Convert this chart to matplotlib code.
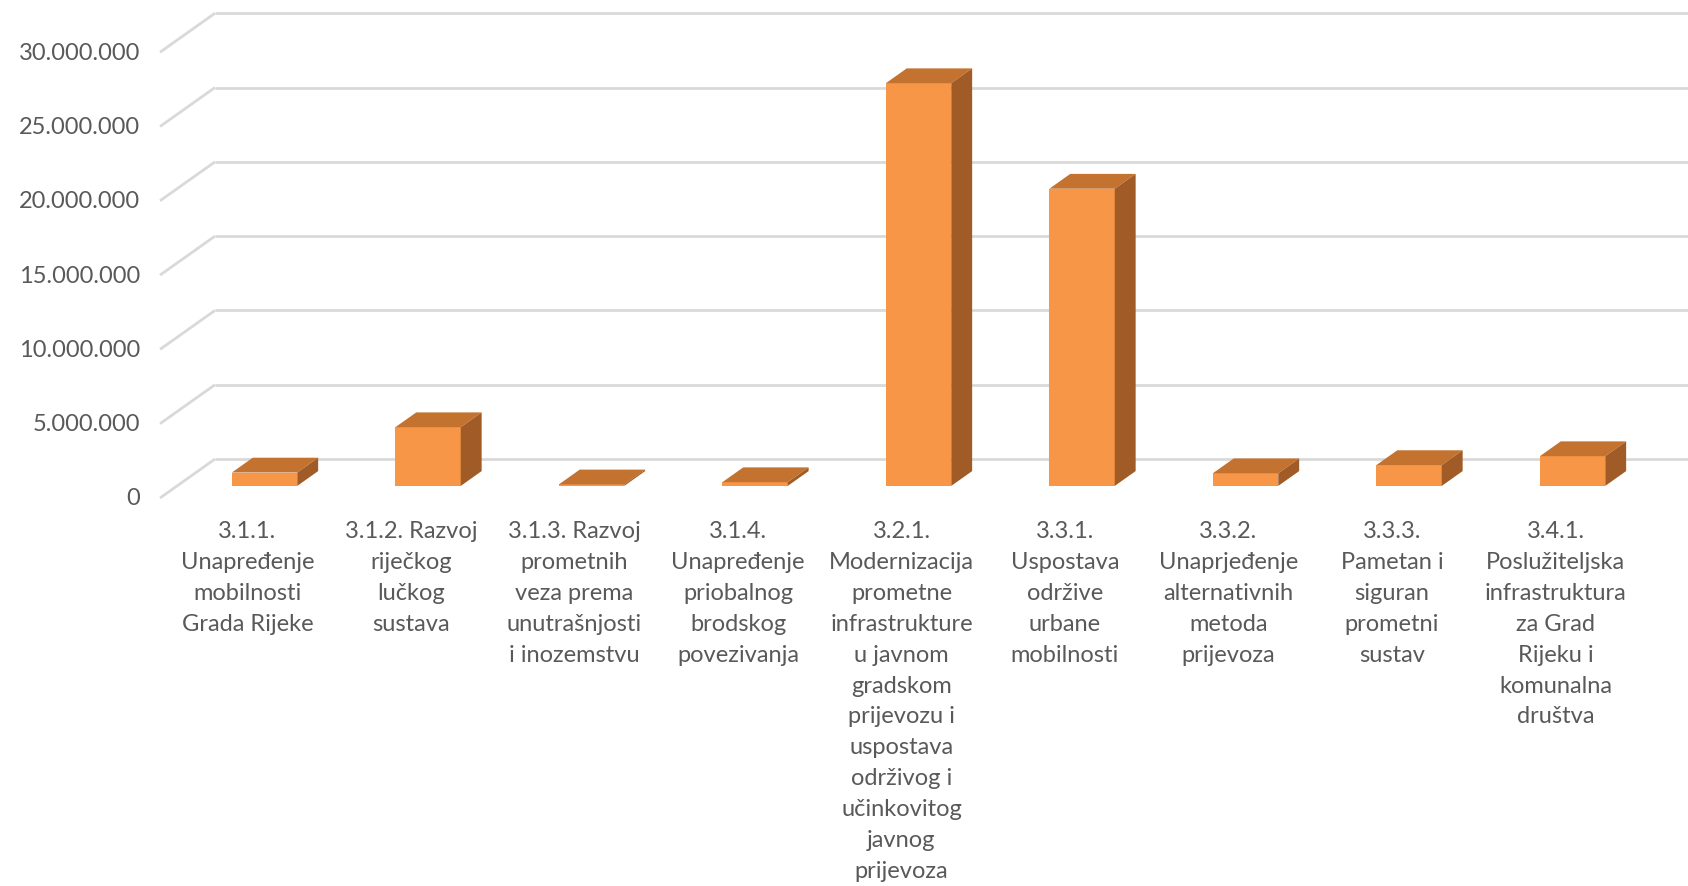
import matplotlib
matplotlib.use("Agg")
import matplotlib.pyplot as plt
import numpy as np

plt.rcParams['font.family'] = ['Lato', 'DejaVu Sans']

# data
labels = [
    "3.1.1.\nUnapređenje\nmobilnosti\nGrada Rijeke",
    "3.1.2. Razvoj\nriječkog\nlučkog\nsustava",
    "3.1.3. Razvoj\nprometnih\nveza prema\nunutrašnjosti\ni inozemstvu",
    "3.1.4.\nUnapređenje\npriobalnog\nbrodskog\npovezivanja",
    "3.2.1.\nModernizacija\nprometne\ninfrastrukture\nu javnom\ngradskom\nprijevozu i\nuspostava\nodrživog i\nučinkovitog\njavnog\nprijevoza",
    "3.3.1.\nUspostava\nodržive\nurbane\nmobilnosti",
    "3.3.2.\nUnaprjeđenje\nalternativnih\nmetoda\nprijevoza",
    "3.3.3.\nPametan i\nsiguran\nprometni\nsustav",
    "3.4.1.\nPoslužiteljska\ninfrastruktura\nza Grad\nRijeku i\nkomunalna\ndruštva",
]
values = [900000, 3950000, 100000, 250000, 27100000, 20000000, 850000, 1400000, 2000000]
yticks = [0, 5000000, 10000000, 15000000, 20000000, 25000000, 30000000]

# colours
c_front = '#F79646'
c_top = '#C4722F'
c_side = '#A15B26'
c_grid = '#D9D9D9'
c_text = '#595959'

vals = np.array(values) / 1e6
x = np.arange(len(labels))

fig = plt.figure(figsize=(16.88, 8.87), dpi=100)
ax = fig.add_axes([0, 0, 1, 1])
px_cat = 163.5      # pixels per category
px_val = 14.86      # pixels per million
x0_px, y0_px = 247.5, 499
ax.set_xlim(-x0_px / px_cat, (1688 - x0_px) / px_cat)
ax.set_ylim(-(887 - y0_px) / px_val, y0_px / px_val)
ax.axis('off')

# 3d-ish depth of the floor
floor_left = -0.535
depth_dx = 55 / px_cat
depth_dy = 39 / px_val
f_front, f_back = 0.31, 0.69
bar_w = 0.40

# walls: gridlines
for t in yticks:
    v = t / 1e6
    ax.plot([floor_left, floor_left + depth_dx], [v, v + depth_dy], color=c_grid, lw=2, zorder=1,
            solid_capstyle='butt')
    ax.plot([floor_left + depth_dx, ax.get_xlim()[1]], [v + depth_dy, v + depth_dy], color=c_grid, lw=2,
            zorder=1, solid_capstyle='butt')
    ax.text(floor_left - 0.12, v, "{:,}".format(t).replace(",", "."), ha='right', va='center',
            fontsize=17, color=c_text)

# bars
bx = x + f_front * depth_dx
by = f_front * depth_dy
ddx = (f_back - f_front) * depth_dx
ddy = (f_back - f_front) * depth_dy
ax.bar(bx, vals, width=bar_w, bottom=by, color=c_front, edgecolor='none', zorder=3)
for xi, v in zip(bx, vals):
    l, r = xi - bar_w / 2, xi + bar_w / 2
    top = by + v
    ax.fill([l, r, r + ddx, l + ddx], [top, top, top + ddy, top + ddy], color=c_top, lw=0, zorder=3)
    ax.fill([r, r + ddx, r + ddx, r], [by, by + ddy, top + ddy, top], color=c_side, lw=0, zorder=3)

# category labels
for xi, lab in zip(x, labels):
    ax.text(xi, -1.5, lab, ha='center', va='top', multialignment='center', fontsize=17,
            color=c_text, linespacing=1.58)

fig.savefig("out.png", dpi=100, facecolor='white')
